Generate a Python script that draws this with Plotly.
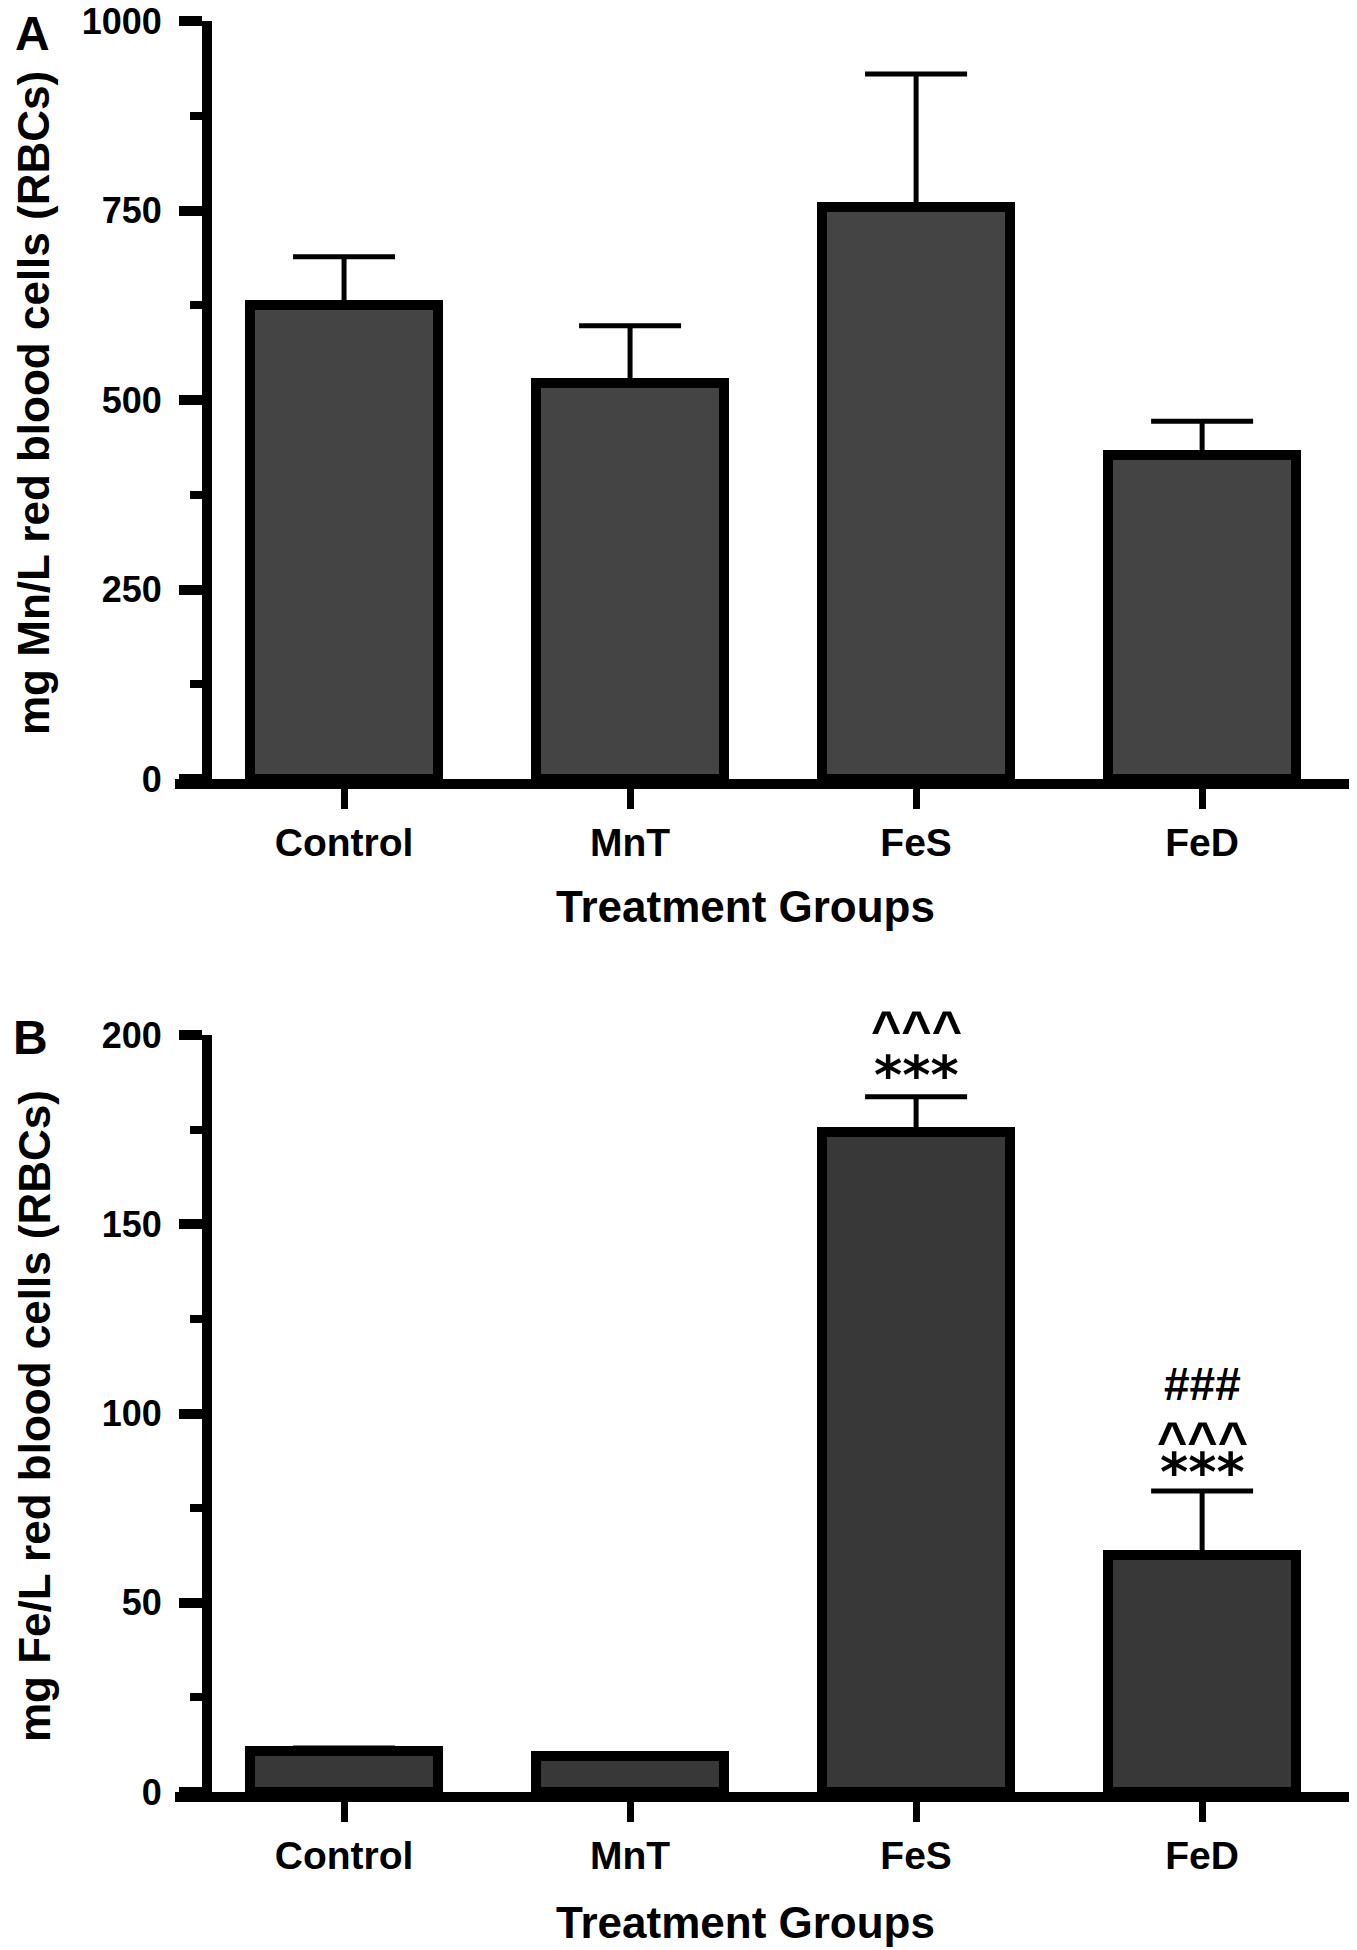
import plotly.graph_objects as go

# ---------------- data ----------------
categories = ["Control", "MnT", "FeS", "FeD"]

mn_mean = [625, 522, 754, 427]
mn_err_upper = [64, 76, 176, 45]

fe_mean = [10.8, 9.6, 174.5, 62.5]
fe_err_upper = [0.8, 0.6, 9.2, 17.0]

mn_yticks = [0, 250, 500, 750, 1000]
mn_minor = [125, 375, 625, 875]
fe_yticks = [0, 50, 100, 150, 200]
fe_minor = [25, 75, 125, 175]

# significance markers for panel B: (category, text)
fe_marks = [
    ("FeS", "***"), ("FeS", "^^^"),
    ("FeD", "***"), ("FeD", "^^^"), ("FeD", "###"),
]

# ---------------- layout helpers ----------------
W, H = 1357, 1950
OFF = 8  # page body margin
FONT = "Liberation Sans, Arial, sans-serif"


def px_x(p):
    return (p - OFF) / W


def px_y(p):
    return 1 - (p - OFF) / H


x_dom = [px_x(175), px_x(1350)]
x_rng = [-0.591, 3.517]
y_pos = px_x(207)
domA = [px_y(779), px_y(21)]
domB = [px_y(1792), px_y(1035)]

fig = go.Figure()

bar_width = 0.657
fig.add_trace(go.Bar(
    x=categories, y=mn_mean, width=bar_width,
    marker=dict(color="#444444", line=dict(color="black", width=10)),
    error_y=dict(type="data", symmetric=False, array=mn_err_upper,
                 arrayminus=[0] * len(mn_mean), color="black",
                 thickness=5, width=51),
    xaxis="x", yaxis="y", showlegend=False, hoverinfo="skip",
))
fig.add_trace(go.Bar(
    x=categories, y=fe_mean, width=bar_width,
    marker=dict(color="#383838", line=dict(color="black", width=10)),
    error_y=dict(type="data", symmetric=False, array=fe_err_upper,
                 arrayminus=[0] * len(fe_mean), color="black",
                 thickness=5, width=51),
    xaxis="x2", yaxis="y2", showlegend=False, hoverinfo="skip",
))

xcommon = dict(
    domain=x_dom, range=x_rng, showline=True, linewidth=10, linecolor="black",
    ticks="outside", ticklen=20, tickwidth=7, tickcolor="black",
    tickfont=dict(family=FONT, size=39, color="black", weight="bold"),
    showgrid=False, zeroline=False, type="category", automargin=False,
)
ycommon = dict(
    anchor="free", position=y_pos, showline=True, linewidth=10, linecolor="black",
    ticks="outside", ticklen=23, tickwidth=10, tickcolor="black",
    tickfont=dict(family=FONT, size=36, color="black", weight="bold"),
    showgrid=False, zeroline=False, automargin=False, ticklabelstandoff=10,
    ticklabeloverflow="allow",
)

fig.update_layout(
    width=W, height=H,
    margin=dict(l=0, r=0, t=0, b=0, autoexpand=False),
    paper_bgcolor="white", plot_bgcolor="white",
    bargap=0,
    xaxis=dict(anchor="y", **xcommon),
    xaxis2=dict(anchor="y2", **xcommon),
    yaxis=dict(domain=domA, range=[0, 1000], tickmode="array", tickvals=mn_yticks,
               minor=dict(tickmode="array", tickvals=mn_minor, ticks="outside",
                          ticklen=12, tickwidth=8, tickcolor="black"),
               **ycommon),
    yaxis2=dict(domain=domB, range=[0, 200], tickmode="array", tickvals=fe_yticks,
                minor=dict(tickmode="array", tickvals=fe_minor, ticks="outside",
                           ticklen=12, tickwidth=8, tickcolor="black"),
                **ycommon),
)


def label(text, x, y, size, angle=0):
    return dict(text=text, x=px_x(x), y=px_y(y), xref="paper", yref="paper",
                xanchor="center", yanchor="middle", textangle=angle, showarrow=False,
                font=dict(family=FONT, size=size, color="black", weight="bold"))


annots = [
    label("A", 32, 34, 48),
    label("B", 30, 1037, 48),
    label("mg Mn/L red blood cells (RBCs)", 34, 403, 44, -90),
    label("mg Fe/L red blood cells (RBCs)", 34, 1416, 44, -90),
    label("Treatment Groups", 745, 906, 44),
    label("Treatment Groups", 745, 1922, 44),
]

# significance marks, stacked above the error bar tops
offsets = {("FeS", 0): 29, ("FeS", 1): 74, ("FeD", 0): 27, ("FeD", 1): 57, ("FeD", 2): 107}
level = {}
for cat, txt in fe_marks:
    i = categories.index(cat)
    k = level.get(cat, 0)
    level[cat] = k + 1
    top = fe_mean[i] + fe_err_upper[i]
    if txt == "***":
        fnt = dict(family="DejaVu Sans, sans-serif", size=54, color="black", weight="bold")
        shift = offsets[(cat, k)] - 8
    elif txt == "^^^":
        fnt = dict(family=FONT, size=52, color="black", weight="bold")
        shift = offsets[(cat, k)] - 6
    else:
        fnt = dict(family=FONT, size=46, color="black", weight="bold")
        shift = offsets[(cat, k)]
    annots.append(dict(text=txt, x=cat, y=top, xref="x2", yref="y2",
                       xanchor="center", yanchor="middle",
                       yshift=shift, showarrow=False, font=fnt))

fig.update_layout(annotations=annots)

fig.write_html("out.html")
